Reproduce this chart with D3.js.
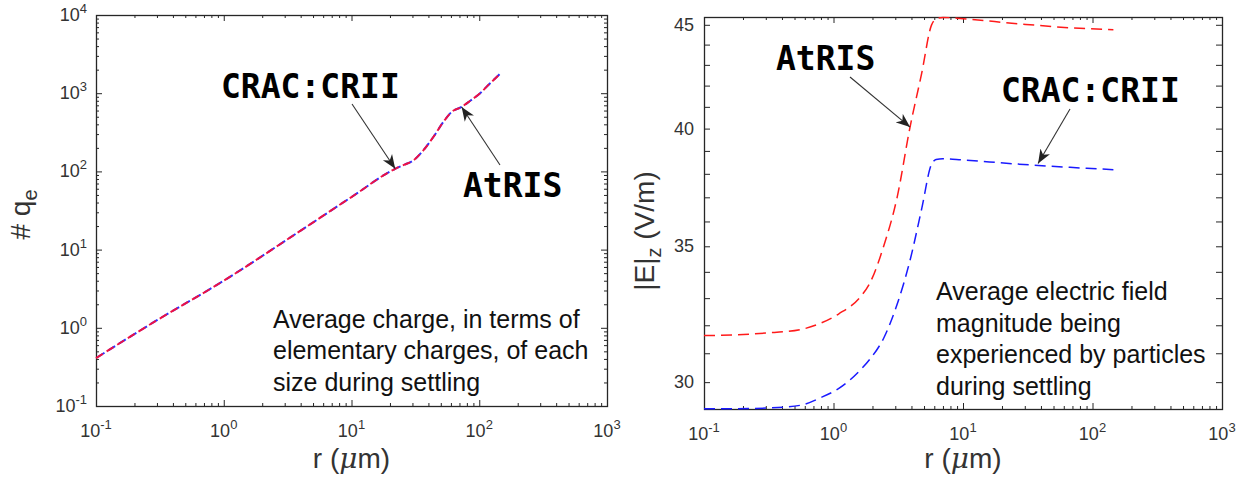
<!DOCTYPE html>
<html>
<head>
<meta charset="utf-8">
<script src="https://cdn.jsdelivr.net/npm/d3@7"></script>
<style>
  body { margin: 0; background: #fff; }
  svg { display: block; }
</style>
</head>
<body>
<svg id="chart" width="1236" height="481"></svg>
<script>
// ---- Panel 1: average charge (elementary charges) vs particle radius ----
const chargeRadius = [0.1, 0.3, 1, 4, 10, 22, 26, 30.5, 36.5, 43.7, 52.3, 60.8, 72.8, 85, 101, 120, 145];
const chargeCRAC   = [0.41, 1.25, 4.0, 17.5, 47, 108, 122, 138, 186, 275, 428, 576, 667, 800, 991, 1310, 1760];
const chargeAtRIS  = [0.41, 1.25, 4.0, 17.5, 47, 108, 122, 138, 186, 275, 428, 576, 667, 800, 991, 1310, 1760];

// ---- Panel 2: average |E| (V/m) experienced while settling ----
const fieldRadius = [0.1, 0.17, 0.3, 0.55, 0.8, 1.1, 1.6, 1.9, 2.45, 3.1, 3.9, 4.8, 5.7, 6.2, 7, 10, 27, 67, 145];
const fieldAtRIS  = [31.63, 31.65, 31.72, 31.84, 32.08, 32.42, 33.03, 33.55, 35.03, 37.0, 40.07, 42.6, 44.97, 45.3, 45.38, 45.31, 45.05, 44.85, 44.75];
const fieldCRAC   = [29.11, 29.11, 29.13, 29.22, 29.48, 29.79, 30.4, 30.78, 31.55, 32.77, 34.45, 36.53, 38.4, 38.62, 38.66, 38.6, 38.42, 38.28, 38.18];

// ---- ticks ----
const radiusExponents = [-1, 0, 1, 2, 3];
const chargeExponents = [-1, 0, 1, 2, 3, 4];
const fieldTickLabels = [30, 35, 40, 45];
const fieldMinorTicks = d3.range(30, 46);

// ---- annotation callouts: label, arrow tip (data), text position, arrow tail ----
const chargeNotes = [
  { text: "CRAC:CRII", r: 22, v: 108, tx: 221, ty: 98, ax: 352, ay: 104 },
  { text: "AtRIS", r: 72.8, v: 667, tx: 463, ty: 197, ax: 500, ay: 165 }
];
const fieldNotes = [
  { text: "AtRIS", r: 3.9, v: 40.07, tx: 776, ty: 70, ax: 850, ay: 77 },
  { text: "CRAC:CRII", r: 38, v: 38.45, tx: 1001, ty: 102, ax: 1070, ay: 109 }
];

const svg = d3.select("#chart");
const axisColor = "#262626";
const labelColor = "#333";
const tickFont = "'Liberation Sans', Arial, Helvetica, sans-serif";
const monoFont = "'DejaVu Sans Mono', 'Liberation Mono', monospace";

// arrowhead marker
svg.append("defs").append("marker")
  .attr("id", "arrowhead")
  .attr("viewBox", "-14 -6 16 12")
  .attr("refX", 0).attr("refY", 0)
  .attr("markerWidth", 16).attr("markerHeight", 12)
  .attr("markerUnits", "userSpaceOnUse")
  .attr("orient", "auto")
  .append("path")
  .attr("d", "M0,0 L-14,-5.5 L-10,0 L-14,5.5 Z")
  .attr("fill", "#222");

function logMinor(lo, hi) {
  const out = [];
  for (let e = lo; e < hi; e++) {
    for (let k = 2; k <= 9; k++) out.push(k * Math.pow(10, e));
  }
  return out;
}

function tickSet(axisFn, scale, transform, values, size) {
  svg.append("g")
    .attr("transform", transform)
    .call(axisFn(scale).tickValues(values).tickSize(size).tickFormat(() => ""))
    .call(g => g.select(".domain").remove())
    .selectAll("line").attr("stroke", axisColor).attr("stroke-width", 1);
}

function powerLabel(parent, x, y, exp, anchor) {
  const t = parent.append("text")
    .attr("x", x).attr("y", y)
    .attr("text-anchor", anchor)
    .attr("font-family", tickFont)
    .attr("font-size", 18)
    .attr("fill", labelColor);
  t.append("tspan").text("10");
  t.append("tspan").attr("dy", -8).attr("font-size", 13).text(String(exp));
  return t;
}

function drawFrame(x, y, box) {
  const [x0, x1] = x.range();
  const [y0, y1] = [box.bottom, box.top];
  // ticks on all four sides, pointing inward
  tickSet(d3.axisBottom, x, `translate(0,${y0})`, radiusExponents.map(e => Math.pow(10, e)), -6);
  tickSet(d3.axisBottom, x, `translate(0,${y0})`, logMinor(-1, 3), -3);
  tickSet(d3.axisTop, x, `translate(0,${y1})`, radiusExponents.map(e => Math.pow(10, e)), -6);
  tickSet(d3.axisTop, x, `translate(0,${y1})`, logMinor(-1, 3), -3);
  svg.append("rect")
    .attr("x", x0 + 0.5).attr("y", y1 + 0.5)
    .attr("width", x1 - x0).attr("height", y0 - y1)
    .attr("fill", "none").attr("stroke", axisColor).attr("stroke-width", 1.3);
  // x tick labels
  const g = svg.append("g");
  radiusExponents.forEach(e => powerLabel(g, x(Math.pow(10, e)), box.bottom + 31, e, "middle"));
  // x title
  const t = svg.append("text")
    .attr("x", (x0 + x1) / 2).attr("y", 468)
    .attr("text-anchor", "middle")
    .attr("font-family", tickFont).attr("font-size", 28).attr("fill", labelColor);
  t.append("tspan").text("r (");
  t.append("tspan").attr("font-style", "italic").attr("font-family", "'DejaVu Serif', serif").text("\u03bc");
  t.append("tspan").text("m)");
}

function drawSeries(x, y, rs, vs, color, width, dash, offset) {
  const pts = rs.map((r, i) => [r, vs[i]]);
  const line = d3.line().x(d => x(d[0])).y(d => y(d[1])).curve(d3.curveMonotoneX);
  svg.append("path")
    .attr("d", line(pts))
    .attr("fill", "none")
    .attr("stroke", color)
    .attr("stroke-width", width)
    .attr("stroke-dasharray", dash)
    .attr("stroke-dashoffset", offset);
}

function drawNotes(x, y, notes) {
  notes.forEach(n => {
    svg.append("line")
      .attr("x1", n.ax).attr("y1", n.ay)
      .attr("x2", x(n.r)).attr("y2", y(n.v))
      .attr("stroke", "#333").attr("stroke-width", 1.1)
      .attr("marker-end", "url(#arrowhead)");
    svg.append("text")
      .attr("x", n.tx).attr("y", n.ty)
      .attr("font-family", monoFont).attr("font-weight", "bold")
      .attr("font-size", 33).attr("fill", "#000")
      .text(n.text);
  });
}

function drawCaption(x0, y0, lines, step) {
  const t = svg.append("text")
    .attr("font-family", tickFont).attr("font-size", 25).attr("fill", "#111");
  lines.forEach((s, i) => t.append("tspan").attr("x", x0).attr("y", y0 + i * step).text(s));
}

// ================= Panel 1 =================
{
  const box = { left: 96, right: 607, top: 15, bottom: 406 };
  const x = d3.scaleLog().domain([0.1, 1000]).range([box.left, box.right]);
  const y = d3.scaleLog().domain([0.1, 10000]).range([box.bottom, box.top]);

  const yMajor = chargeExponents.map(e => Math.pow(10, e));
  tickSet(d3.axisLeft, y, `translate(${box.left},0)`, yMajor, -6);
  tickSet(d3.axisLeft, y, `translate(${box.left},0)`, logMinor(-1, 4), -3);
  tickSet(d3.axisRight, y, `translate(${box.right},0)`, yMajor, -6);
  tickSet(d3.axisRight, y, `translate(${box.right},0)`, logMinor(-1, 4), -3);
  drawFrame(x, y, box);

  const g = svg.append("g");
  chargeExponents.forEach(e => powerLabel(g, box.left - 9, y(Math.pow(10, e)) + 6, e, "end"));

  // y title: # q_e
  const yt = svg.append("text")
    .attr("transform", `translate(30,${(box.top + box.bottom) / 2 + 4}) rotate(-90)`)
    .attr("text-anchor", "middle")
    .attr("font-family", tickFont).attr("font-size", 28).attr("fill", labelColor);
  yt.append("tspan").text("# q");
  yt.append("tspan").attr("dy", 7).attr("font-size", 20).text("e");

  // the two curves coincide: blue dashes peek out just past the red ones
  drawSeries(x, y, chargeRadius, chargeCRAC, "#3030ff", 2, "8,4.5", 10.5);
  drawSeries(x, y, chargeRadius, chargeAtRIS, "#ee1144", 2, "8,4.5", 0);

  drawCaption(273, 327.5, [
    "Average charge, in terms of",
    "elementary charges, of each",
    "size during settling"
  ], 31.7);

  drawNotes(x, y, chargeNotes);
}

// ================= Panel 2 =================
{
  const box = { left: 704, right: 1222, top: 17, bottom: 409 };
  const x = d3.scaleLog().domain([0.1, 1000]).range([box.left, box.right]);
  const y = d3.scaleLog().domain([29.1, 45.4]).range([box.bottom, box.top]);

  tickSet(d3.axisLeft, y, `translate(${box.left},0)`, fieldMinorTicks, -6);
  tickSet(d3.axisRight, y, `translate(${box.right},0)`, fieldMinorTicks, -6);
  drawFrame(x, y, box);

  svg.append("g").selectAll("text")
    .data(fieldTickLabels)
    .join("text")
    .attr("x", box.left - 10)
    .attr("y", d => y(d) + 6)
    .attr("text-anchor", "end")
    .attr("font-family", tickFont).attr("font-size", 18).attr("fill", labelColor)
    .text(d => d);

  // y title: |E|_z (V/m)
  const yt = svg.append("text")
    .attr("transform", `translate(654,${(box.top + box.bottom) / 2 + 18}) rotate(-90)`)
    .attr("text-anchor", "middle")
    .attr("font-family", tickFont).attr("font-size", 28).attr("fill", labelColor);
  yt.append("tspan").text("|E|");
  yt.append("tspan").attr("dy", 7).attr("font-size", 20).text("z");
  yt.append("tspan").attr("dy", -7).text(" (V/m)");

  drawSeries(x, y, fieldRadius, fieldAtRIS, "#ff1a1a", 1.5, "11,6", 0);
  drawSeries(x, y, fieldRadius, fieldCRAC, "#1a1aff", 1.5, "11,6", 0);

  drawCaption(936, 300, [
    "Average electric field",
    "magnitude being",
    "experienced by particles",
    "during settling"
  ], 31.5);

  drawNotes(x, y, fieldNotes);
}
</script>
</body>
</html>
